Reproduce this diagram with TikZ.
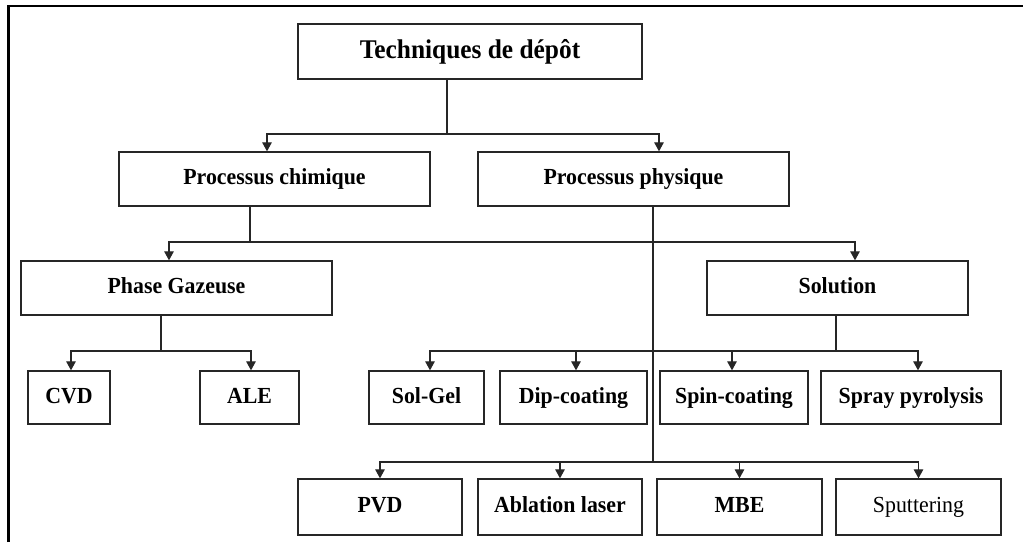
\documentclass[tikz,border=0pt]{standalone}
\usepackage{fontspec}
\setmainfont{Liberation Serif}
\newfontfamily\labelfont[FakeStretch=0.95]{Liberation Serif}
\newfontfamily\titlefont[FakeStretch=0.94]{Liberation Serif}
\usetikzlibrary{arrows.meta}
\begin{document}
\begin{tikzpicture}[x=1pt,y=-1pt,
  box/.style={draw=black!85, line width=1.3pt, inner sep=0pt, minimum height=54pt,
              text height=16pt, text depth=5pt,
              font=\labelfont\fontsize{23}{26}\selectfont\bfseries},
  conn/.style={draw=black!85, line width=1.2pt},
  arr/.style={conn, -{Triangle[width=9.5pt,length=9pt]}},
  frame/.style={draw=black, line width=2.6pt}]
\useasboundingbox (0,0) rectangle (1023,542);
% outer frame (top and left edges)
\draw[frame] (8.3,542) -- (8.3,6) -- (1023,6);

% level 0
\node[box, minimum width=344pt, minimum height=55pt, text height=19pt, text depth=6pt,
      font=\titlefont\fontsize{27}{30}\selectfont\bfseries] (top) at (470,51.5) {Techniques de dépôt};
% level 1
\node[box, minimum width=311pt] (chim) at (274.5,179) {Processus chimique};
\node[box, minimum width=311pt] (phys) at (633.5,179) {Processus physique};
% level 2
\node[box, minimum width=311pt] (gaz) at (176.5,288) {Phase Gazeuse};
\node[box, minimum width=261pt] (sol) at (837.5,288) {Solution};
% level 3
\node[box, minimum width=82pt, minimum height=53pt] (cvd) at (69,397.5) {CVD};
\node[box, minimum width=99pt, minimum height=53pt] (ale) at (249.5,397.5) {ALE};
\node[box, minimum width=115pt, minimum height=53pt] (solgel) at (426.5,397.5) {Sol-Gel};
\node[box, minimum width=147pt, minimum height=53pt] (dip) at (573.5,397.5) {Dip-coating};
\node[box, minimum width=148pt, minimum height=53pt] (spin) at (734,397.5) {Spin-coating};
\node[box, minimum width=180pt, minimum height=53pt] (spray) at (911,397.5) {Spray pyrolysis};
% level 4
\node[box, minimum width=164pt, minimum height=56pt] (pvd) at (380,507) {PVD};
\node[box, minimum width=164pt, minimum height=56pt] (abl) at (560,507) {Ablation laser};
\node[box, minimum width=165pt, minimum height=56pt] (mbe) at (739.5,507) {MBE};
\node[box, minimum width=165pt, minimum height=56pt, font=\labelfont\fontsize{23}{26}\selectfont] (sput) at (918.5,507) {Sputtering};

% junction points of the buses
\coordinate (j0) at (447,134);
\coordinate (j1) at (250,242);
\coordinate (j2) at (161,351);
\coordinate (j3) at (836,351);
\coordinate (j4) at (653,462);

% Techniques de dépôt -> processus
\draw[conn] (j0 |- top.south) -- (j0);
\draw[arr] (j0) -| ([xshift=-7.5pt]chim.north);
\draw[arr] (j0) -| ([xshift=25.5pt]phys.north);

% Processus chimique -> phase gazeuse / solution
\draw[conn] (j1 |- chim.south) -- (j1);
\draw[arr] (j1) -| ([xshift=-7.5pt]gaz.north);
\draw[arr] (j1) -| ([xshift=17.5pt]sol.north);

% Phase gazeuse -> CVD / ALE
\draw[conn] (j2 |- gaz.south) -- (j2);
\draw[arr] (j2) -| ([xshift=2pt]cvd.north);
\draw[arr] (j2) -| ([xshift=1.5pt]ale.north);

% Solution -> sol-gel, dip, spin, spray
\draw[conn] (j3 |- sol.south) -- (j3);
\draw[arr] (j3) -| ([xshift=3.5pt]solgel.north);
\draw[arr] (j3) -| ([xshift=2.5pt]dip.north);
\draw[arr] (j3) -| ([xshift=-2pt]spin.north);
\draw[arr] (j3) -| ([xshift=7pt]spray.north);

% Processus physique -> PVD, ablation, MBE, sputtering
\draw[conn] (j4 |- phys.south) -- (j4);
\draw[arr] (j4) -| (pvd.north);
\draw[arr] (j4) -| (abl.north);
\draw[arr] (j4) -| (mbe.north);
\draw[arr] (j4) -| (sput.north);
\end{tikzpicture}
\end{document}
